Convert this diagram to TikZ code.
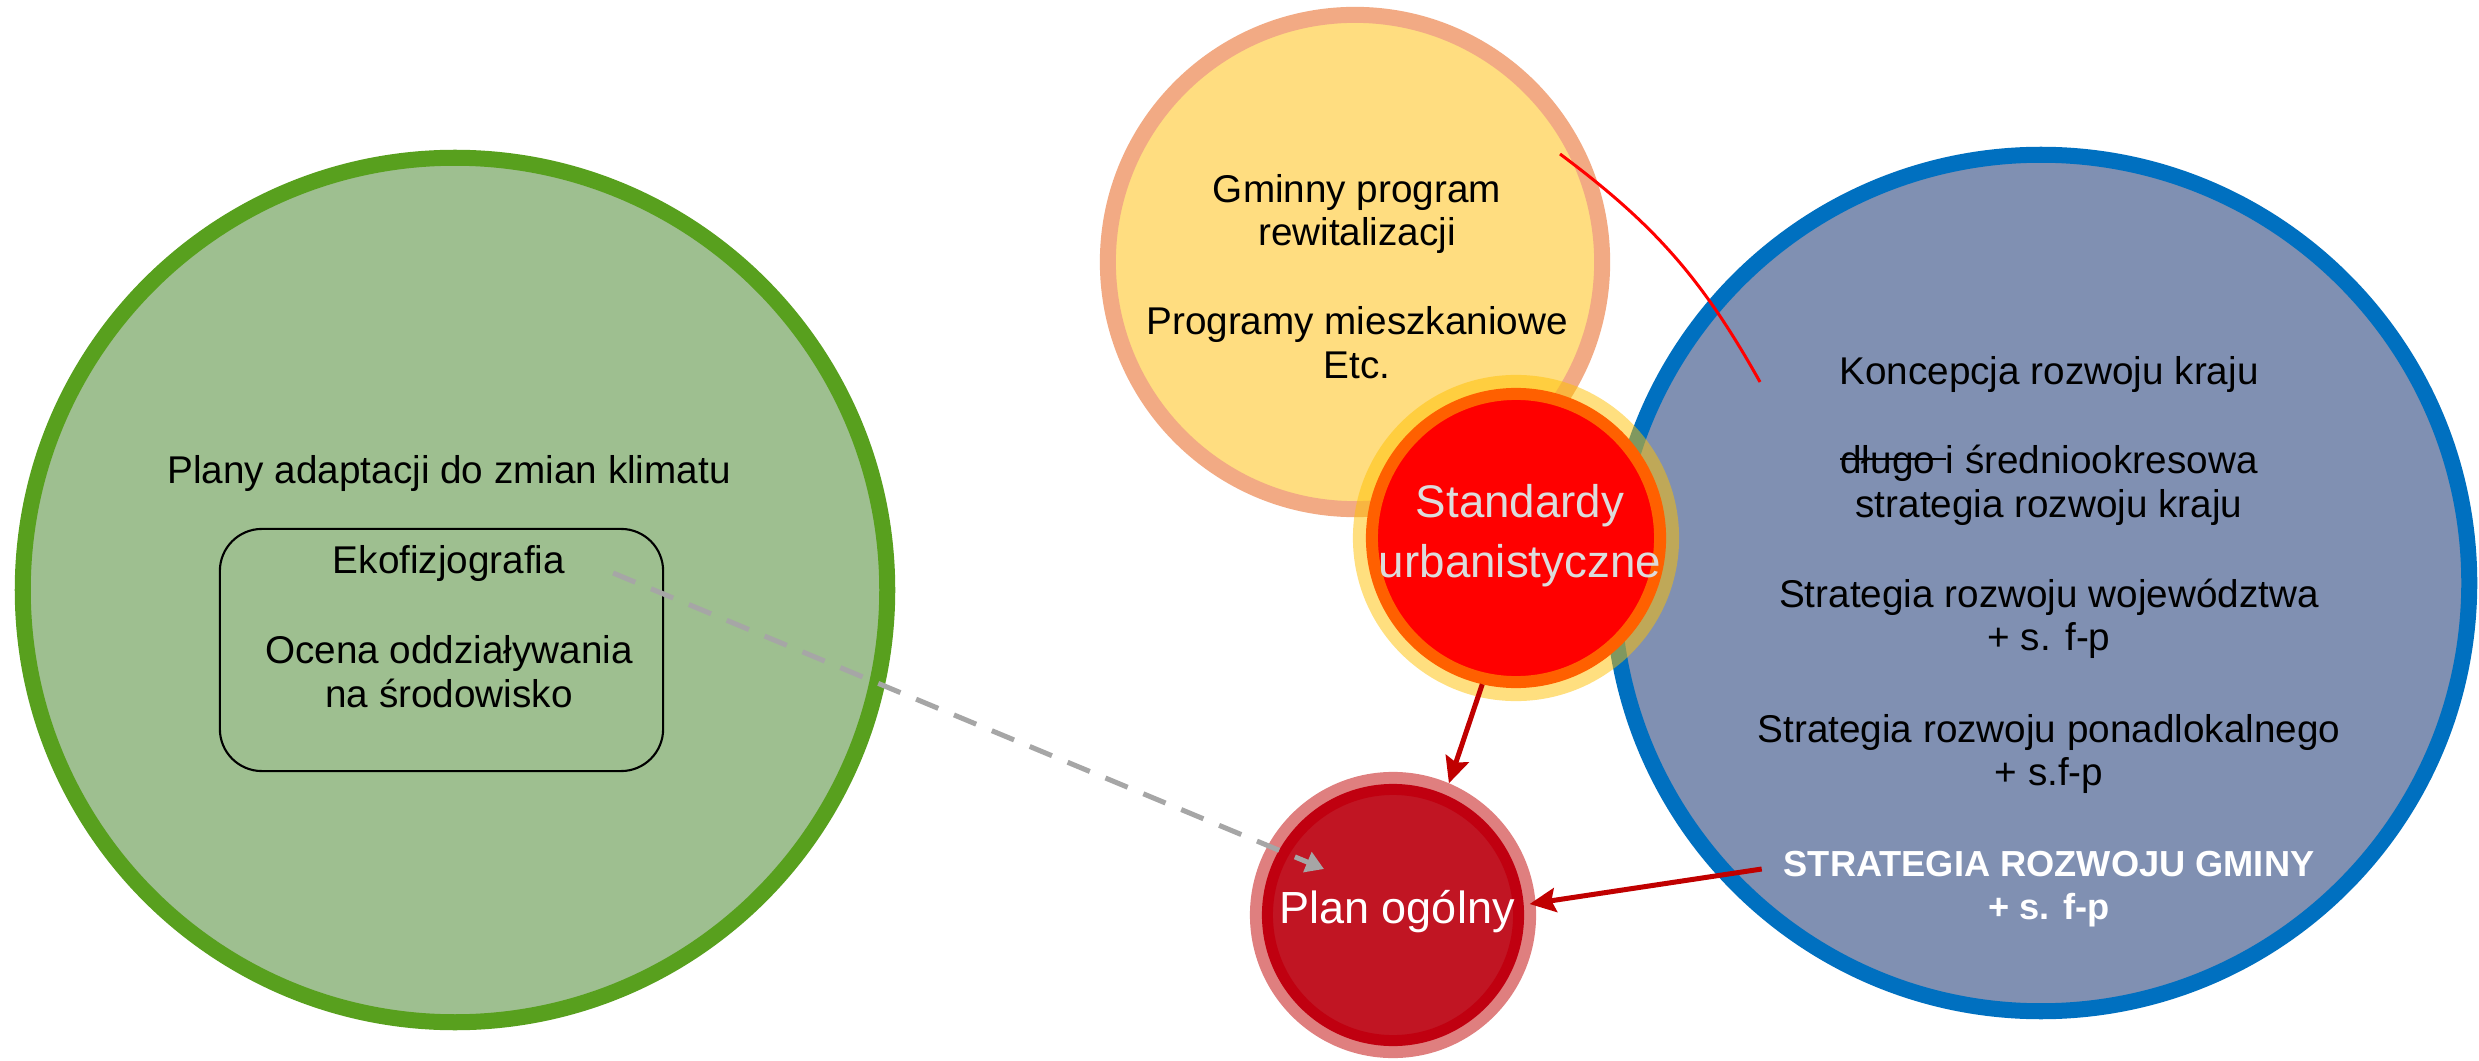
\documentclass[tikz,border=0pt]{standalone}
\usepackage{fontspec}
\setmainfont{Liberation Sans}
\usetikzlibrary{arrows.meta,calc}

\definecolor{greenfill}{HTML}{9EBF90}
\definecolor{greenline}{HTML}{58A01E}
\definecolor{yellowfill}{HTML}{FFDD80}
\definecolor{yellowline}{HTML}{F2AA84}
\definecolor{bluefill}{HTML}{8090B2}
\definecolor{blueline}{HTML}{0070C0}
\definecolor{stdfill}{HTML}{FF0000}
\definecolor{stdring}{HTML}{FF6000}
\definecolor{stdglow}{HTML}{FFC000}
\definecolor{planfill}{HTML}{C11523}
\definecolor{planring}{HTML}{C00010}
\definecolor{planglow}{HTML}{C00000}
\definecolor{arrowred}{HTML}{C00000}
\definecolor{dashgray}{HTML}{A6A6A6}
\definecolor{lightgraytext}{HTML}{DCDCDC}

\newcommand\bodysize{\fontsize{11}{13}\selectfont}
\newcommand\bigsize{\fontsize{13}{15}\selectfont}
\newcommand\boldsize{\fontsize{10.3}{12}\selectfont\bfseries}
\newsavebox\strikebox
\newcommand\strikeout[1]{\sbox\strikebox{#1}\rlap{\rule[0.37em]{\wd\strikebox}{0.6pt}}\usebox\strikebox}

\begin{document}
\begin{tikzpicture}[x=0.01cm, y=-0.01cm,
  disc/.style={circle, inner sep=0pt},
  glow/.style={circle, inner sep=0pt, outer sep=0pt, draw=none, fill opacity=0.5},
  lab/.style={anchor=base, inner sep=0pt, outer sep=0pt, font=\bodysize, text=black},
  redarrow/.style={draw=arrowred, line width=0.05cm,
    -{Stealth[length=0.26cm, width=0.24cm, inset=0.04cm]}},
  grayarrow/.style={draw=dashgray, line width=0.05cm, dash pattern=on 0.24cm off 0.17cm,
    -{Triangle[length=0.18cm, width=0.21cm]}},
  thinred/.style={draw=red, line width=0.03cm}
]
\fill[white] (0,0) rectangle (2479,1061);
\useasboundingbox (0,0) rectangle (2479,1061);

% large circles
\node[disc, fill=greenfill, draw=greenline, line width=0.16cm, minimum size=8.64cm] (grn) at (455,590) {};
\node[disc, fill=yellowfill, draw=yellowline, line width=0.16cm, minimum size=4.94cm] (yel) at (1355,262) {};
\node[disc, fill=bluefill, draw=blueline, line width=0.16cm, minimum size=8.56cm] (blu) at (2041,583) {};

% curve from the programmes to the national documents
\coordinate (c0) at ($(yel.center)+(205,-108)$);
\coordinate (c1) at ($(blu.center)+(-281,-201)$);
\draw[thinred] (c0) to[bend left=12] (c1);

% urban standards
\node[glow, fill=stdglow, minimum size=3.26cm] (stdglow) at (1516,538) {};
\node[disc, fill=stdfill, draw=stdring, line width=0.12cm, minimum size=2.88cm] (std) at (1516,538) {};

% general plan
\node[glow, fill=planglow, minimum size=2.86cm] (planglow) at (1393,915) {};
\node[disc, fill=planfill, draw=planring, line width=0.11cm, minimum size=2.51cm] (plan) at (1393,915) {};

% box inside the green circle
\node[draw=black, line width=0.6pt, rounded corners=0.42cm, minimum width=4.43cm,
      minimum height=2.42cm, inner sep=0pt] (box) at (441.5,650) {};

% green circle texts
\node[lab] (gr1) at (449,483) {Plany adaptacji do zmian klimatu};
\node[lab] (ekof) at (449,573) {Ekofizjografia};
\node[lab] (gr3) at (449,663) {Ocena oddziaływania};
\node[lab] (gr4) at (449,707) {na środowisko};

% yellow circle texts
\node[lab] (y1) at (1357,203) {Gminny program};
\node[lab] (y2) at (1357,246) {rewitalizacji};
\node[lab] (y3) at (1357,335) {Programy mieszkaniowe};
\node[lab] (y4) at (1357,379) {Etc.};

% blue circle texts
\node[lab] (b1) at (2049,385) {Koncepcja rozwoju kraju};
\node[lab] (b2) at (2049,474) {\strikeout{długo\ }i średniookresowa};
\node[lab] (b3) at (2049,517) {strategia rozwoju kraju};
\node[lab] (b4) at (2049,607) {Strategia rozwoju województwa};
\node[lab] (b5) at (2049,650) {+ s. f-p};
\node[lab] (b6) at (2049,742) {Strategia rozwoju ponadlokalnego};
\node[lab] (b7) at (2049,785) {+ s.f-p};
\node[lab, font=\boldsize, text=white] (gminy) at (2049,876) {STRATEGIA ROZWOJU GMINY};
\node[lab, font=\boldsize, text=white] (b9) at (2049,919) {+ s. f-p};

% standards and plan labels
\node[lab, font=\bigsize, text=lightgraytext] (s1) at (1520,518) {Standardy};
\node[lab, font=\bigsize, text=lightgraytext] (s2) at (1520,577) {urbanistyczne};
\node[lab, font=\fontsize{12.8}{15}\selectfont, text=white] (p1) at (1397,923) {Plan ogólny};

% connectors
\coordinate (d0) at ([xshift=0.48cm]ekof.base east);
\coordinate (d1) at ($(plan.center)+(-69,-46)$);
\draw[grayarrow] (d0) -- (d1);

\draw[redarrow] (std.-103) -- (planglow.67.7);

\coordinate (g0) at ($(gminy.base west)+(-22,-7)$);
\coordinate (g1) at ($(plan.center)+(4.6:1.37cm)$);
\draw[redarrow] (g0) -- (g1);
\end{tikzpicture}
\end{document}
